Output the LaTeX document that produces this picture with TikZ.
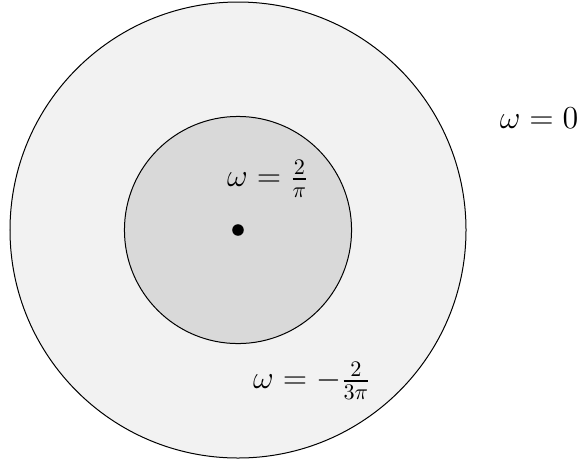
\documentclass[tikz,border=0pt]{standalone}
\usepackage{amsmath,amssymb,amsfonts}
\usepackage{xcolor}
\usepackage{tikz}
\usetikzlibrary{shapes,positioning,calc}

\begin{document}
\begin{tikzpicture}[
  x=0.45pt, y=-0.45pt,
  region/.style={draw, circle, inner sep=0pt, line width=0.45pt},
  outerregion/.style={region, minimum size=205.2pt, fill=black!5},
  innerregion/.style={region, minimum size=102.2pt, fill=black!15},
  centredot/.style={circle, fill=black, inner sep=0pt, minimum size=5.2pt},
  omegalabel/.style={font=\Large, inner sep=0pt}
]
\useasboundingbox (0,0) rectangle (579,458);
\node[outerregion] (outer) at (238,230) {};
\node[innerregion] (inner) at (238,230) {};
\node[centredot] (centre) at (238,230) {};
\node[omegalabel] (winner) at (268,179) {$\omega = \frac{2}{\pi}$};
\node[omegalabel] (wouter) at (312,381) {$\omega = -\frac{2}{3\pi}$};
\node[omegalabel] (wzero) at (539,118) {$\omega = 0$};
\end{tikzpicture}
\end{document}
